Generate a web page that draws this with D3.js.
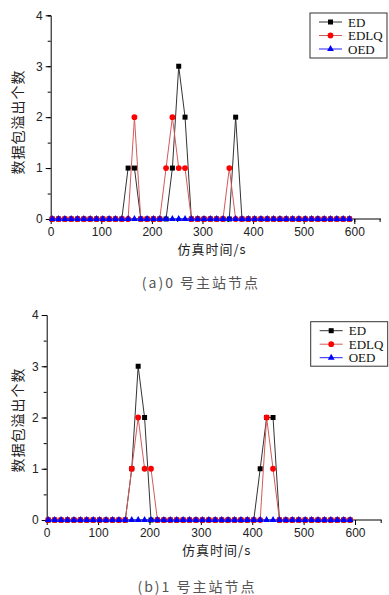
<!DOCTYPE html>
<html>
<head>
<meta charset="utf-8">
<script src="https://cdn.jsdelivr.net/npm/d3@7"></script>
<style>
  body { margin: 0; background: #fff; }
  svg { display: block; }
</style>
</head>
<body>
<script>
// 仿真时间 (s)
var times = [3, 15.5, 28, 40.5, 53, 65.5, 78, 90.5, 103, 115.5,
  128, 140.5, 153, 165.5, 178, 190.5, 203, 215.5, 228, 240.5,
  253, 265.5, 278, 290.5, 303, 315.5, 328, 340.5, 353, 365.5,
  378, 390.5, 403, 415.5, 428, 440.5, 453, 465.5, 478, 490.5,
  503, 515.5, 528, 540.5, 553, 565.5, 578, 590.5];

// (a) 0 号主站节点
var edA   = [0,0,0,0,0,0,0,0,0,0, 0,0,1,1,0,0,0,0,0,1, 3,2,0,0,0,0,0,0,0,2, 0,0,0,0,0,0,0,0,0,0, 0,0,0,0,0,0,0,0];
var edlqA = [0,0,0,0,0,0,0,0,0,0, 0,0,0,2,0,0,0,0,1,2, 1,1,0,0,0,0,0,0,1,0, 0,0,0,0,0,0,0,0,0,0, 0,0,0,0,0,0,0,0];
var oedA  = [0,0,0,0,0,0,0,0,0,0, 0,0,0,0,0,0,0,0,0,0, 0,0,0,0,0,0,0,0,0,0, 0,0,0,0,0,0,0,0,0,0, 0,0,0,0,0,0,0,0];

// (b) 1 号主站节点
var edB   = [0,0,0,0,0,0,0,0,0,0, 0,0,0,1,3,2,0,0,0,0, 0,0,0,0,0,0,0,0,0,0, 0,0,0,1,2,2,0,0,0,0, 0,0,0,0,0,0,0,0];
var edlqB = [0,0,0,0,0,0,0,0,0,0, 0,0,0,1,2,1,1,0,0,0, 0,0,0,0,0,0,0,0,0,0, 0,0,0,0,2,1,0,0,0,0, 0,0,0,0,0,0,0,0];
var oedB  = [0,0,0,0,0,0,0,0,0,0, 0,0,0,0,0,0,0,0,0,0, 0,0,0,0,0,0,0,0,0,0, 0,0,0,0,0,0,0,0,0,0, 0,0,0,0,0,0,0,0];

var xTicks = [0, 100, 200, 300, 400, 500, 600];
var yTicks = [0, 1, 2, 3, 4];
var seriesNames = ['ED', 'EDLQ', 'OED'];
var xTitle = '仿真时间/s';
var yTitle = '数据包溢出个数';

var svg = d3.select('body').append('svg')
  .attr('width', 389)
  .attr('height', 595);

var styles = {
  ED:   { line: '#333', fill: '#000', sym: d3.symbolSquare, size: 25 },
  EDLQ: { line: '#d45a5a', fill: '#f00', sym: d3.symbolCircle, size: 26 },
  OED:  { line: '#2020ff', fill: '#0000ff', sym: d3.symbolTriangle, size: 20 }
};

function drawChart(cfg) {
  var g = svg.append('g');

  var x = d3.scaleLinear().domain([0, 600]).range([cfg.left, cfg.x600]);
  var y = d3.scaleLinear().domain([0, 4]).range([cfg.bottom, cfg.top]);

  // 副刻度
  var xAxis = d3.axisBottom(x).tickValues(d3.range(0, 651, 50)).tickSize(3).tickFormat('');
  var xAxisMajor = d3.axisBottom(x).tickValues(xTicks).tickSize(5).tickPadding(3).tickFormat(d3.format('d'));
  var yAxis = d3.axisLeft(y).tickValues(d3.range(0, 4.01, 0.5)).tickSize(3).tickFormat('');
  var yAxisMajor = d3.axisLeft(y).tickValues(yTicks).tickSize(5).tickPadding(3).tickFormat(d3.format('d'));

  var xg = g.append('g').attr('transform', 'translate(0,' + cfg.bottom + ')');
  xg.call(xAxis);
  xg.select('.domain').attr('d', 'M' + cfg.left + ',0H' + cfg.right);
  var xgm = g.append('g').attr('transform', 'translate(0,' + cfg.bottom + ')').call(xAxisMajor);
  xgm.select('.domain').remove();

  g.append('g').attr('transform', 'translate(' + cfg.left + ',0)').call(yAxis);
  var ygm = g.append('g').attr('transform', 'translate(' + cfg.left + ',0)').call(yAxisMajor);
  ygm.select('.domain').remove();

  g.selectAll('.tick text')
    .style('font-family', '"Liberation Sans", Arial, sans-serif')
    .style('font-size', '12px')
    .attr('fill', '#222');

  var data = { ED: cfg.ed, EDLQ: cfg.edlq, OED: cfg.oed };
  seriesNames.forEach(function(name) {
    var st = styles[name];
    var pts = times.map(function(t, i) { return [t, data[name][i]]; });
    var line = d3.line()
      .x(function(d) { return x(d[0]); })
      .y(function(d) { return y(d[1]); });
    g.append('path')
      .datum(pts)
      .attr('d', line)
      .attr('fill', 'none')
      .attr('stroke', st.line)
      .attr('stroke-width', 1);
    g.selectAll('.m' + name)
      .data(pts)
      .enter().append('path')
      .attr('transform', function(d) { return 'translate(' + x(d[0]) + ',' + y(d[1]) + ')'; })
      .attr('d', d3.symbol().type(st.sym).size(st.size))
      .attr('fill', st.fill);
  });

  // 图例
  var lg = g.append('g');
  lg.append('rect')
    .attr('x', cfg.legend[0]).attr('y', cfg.legend[1])
    .attr('width', cfg.legend[2]).attr('height', cfg.legend[3])
    .attr('fill', '#fff').attr('stroke', '#333').attr('stroke-width', 1);
  seriesNames.forEach(function(name, i) {
    var st = styles[name];
    var yy = cfg.legend[1] + 9 + i * 13.5;
    var lx = cfg.legend[0] + 9;
    lg.append('line')
      .attr('x1', lx).attr('x2', lx + 23)
      .attr('y1', yy).attr('y2', yy)
      .attr('stroke', st.line).attr('stroke-width', 1);
    lg.append('path')
      .attr('transform', 'translate(' + (lx + 11.5) + ',' + yy + ')')
      .attr('d', d3.symbol().type(st.sym).size(st.size))
      .attr('fill', st.fill);
    lg.append('text')
      .attr('x', lx + 29).attr('y', yy + 4.5)
      .style('font-family', '"Liberation Serif", "Times New Roman", serif')
      .style('font-size', '13px')
      .attr('fill', '#111')
      .text(name);
  });

  // 轴标题
  g.append('text')
    .attr('x', cfg.xTitle[0]).attr('y', cfg.xTitle[1])
    .attr('text-anchor', 'middle')
    .style('font-family', '"Noto Sans CJK SC", sans-serif')
    .style('font-size', '13px')
    .style('letter-spacing', '1px')
    .attr('fill', '#222')
    .text(xTitle);
  g.append('text')
    .attr('transform', 'translate(' + cfg.yTitle[0] + ',' + cfg.yTitle[1] + ') rotate(-90)')
    .attr('text-anchor', 'middle')
    .attr('dy', '0.35em')
    .style('font-family', '"Noto Sans CJK SC", sans-serif')
    .style('font-size', '14px')
    .style('letter-spacing', '1px')
    .attr('fill', '#222')
    .text(yTitle);

  // 子图标题
  g.append('text')
    .attr('x', cfg.caption[0]).attr('y', cfg.caption[1])
    .attr('text-anchor', 'middle')
    .style('font-family', '"Noto Sans CJK SC", sans-serif')
    .style('font-size', '14px')
    .style('letter-spacing', '2px')
    .attr('fill', '#555')
    .text(cfg.captionText);
}

drawChart({
  left: 50.7, x600: 354.3, right: 381, top: 15.3, bottom: 219,
  ed: edA, edlq: edlqA, oed: oedA,
  legend: [310, 13, 77, 45],
  xTitle: [212, 254], yTitle: [18, 122],
  caption: [201, 288], captionText: '(a)0 号主站节点'
});

drawChart({
  left: 46.7, x600: 355, right: 381.7, top: 315, bottom: 520,
  ed: edB, edlq: edlqB, oed: oedB,
  legend: [310.7, 321.7, 77, 44.5],
  xTitle: [216.7, 555], yTitle: [18, 420],
  caption: [197, 592], captionText: '(b)1 号主站节点'
});
</script>
</body>
</html>
